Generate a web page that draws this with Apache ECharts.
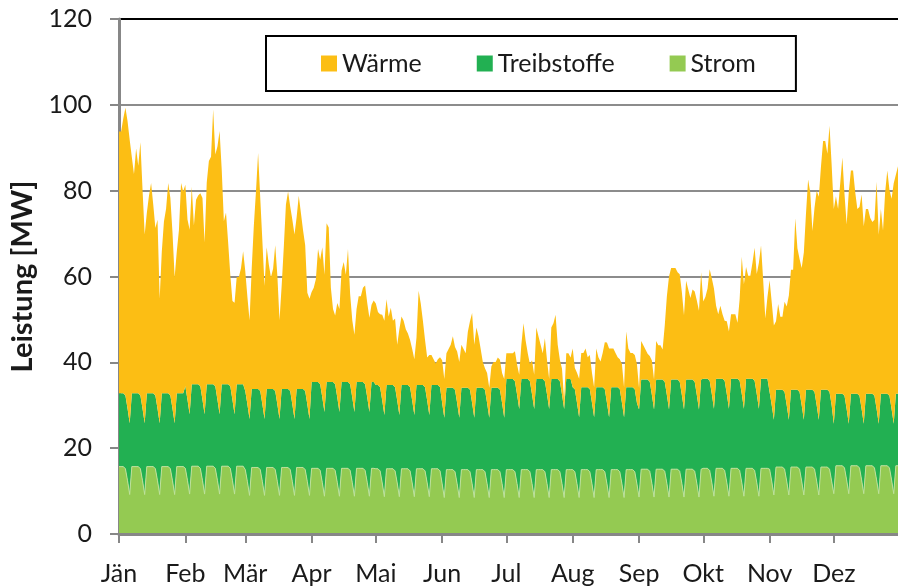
<!DOCTYPE html>
<html>
<head>
<meta charset="utf-8">
<script src="https://cdn.jsdelivr.net/npm/echarts@6/dist/echarts.min.js"></script>
<style>
html, body { margin: 0; padding: 0; background: #fff; }
#chart { width: 898px; height: 586px; }
</style>
</head>
<body>
<div id="chart"></div>
<script>
// Monatsanfaenge (Tag im Jahr) und Achsenbeschriftung
const monthStarts = [0, 31, 59, 90, 120, 151, 181, 212, 243, 273, 304, 334];
const monthLabels = ['Jän', 'Feb', 'Mär', 'Apr', 'Mai', 'Jun', 'Jul', 'Aug', 'Sep', 'Okt', 'Nov', 'Dez'];

// Tageswerte in MW, eine Zeile = eine Woche (Di ... Mo)
const strom = [
    15.7,15.7,15.7,15.2,12.4,9.2,15.7,
    15.7,15.7,15.7,15.2,12.4,9.2,15.7,
    15.7,15.7,15.7,15.2,12.4,9.2,15.7,
    15.7,15.7,15.7,15.2,12.4,9.2,15.7,
    15.7,15.7,15.7,15.3,12.5,9.3,15.8,
    15.8,15.8,15.8,15.3,12.5,9.3,15.8,
    15.8,15.8,15.8,15.3,12.5,9.3,15.8,
    15.8,15.8,15.8,15.3,12.5,9.3,15.8,
    15.8,15.8,15.8,15.0,12.2,9.0,15.5,
    15.5,15.5,15.5,15.0,12.2,9.0,15.5,
    15.5,15.5,15.5,15.0,12.2,9.0,15.5,
    15.5,15.5,15.5,15.0,12.2,9.0,15.5,
    15.5,15.5,15.5,15.0,12.2,9.0,15.3,
    15.3,15.3,15.3,14.8,12.0,8.8,15.3,
    15.3,15.3,15.3,14.8,12.0,8.8,15.3,
    15.3,15.3,15.3,14.8,12.0,8.8,15.3,
    15.3,15.3,15.3,14.8,12.0,8.8,15.3,
    15.3,15.2,15.2,14.7,11.9,8.7,15.2,
    15.2,15.2,15.2,14.7,11.9,8.7,15.2,
    15.2,15.2,15.2,14.7,11.9,8.7,15.2,
    15.2,15.2,15.2,14.7,11.9,8.7,15.2,
    15.2,15.2,15.2,14.7,11.7,8.5,15.0,
    15.0,15.0,15.0,14.5,11.7,8.5,15.0,
    15.0,15.0,15.0,14.5,11.7,8.5,15.0,
    15.0,15.0,15.0,14.5,11.7,8.5,15.0,
    15.0,15.0,15.0,14.5,11.7,8.5,15.0,
    15.0,15.0,15.0,14.5,11.7,8.5,15.0,
    15.0,15.0,15.0,14.5,11.7,8.5,15.0,
    15.0,15.0,15.0,14.5,11.7,8.5,15.0,
    15.0,15.0,15.0,14.5,11.7,8.5,15.0,
    15.0,15.0,15.0,14.5,11.7,8.5,15.0,
    15.0,15.0,15.0,14.5,11.7,8.5,15.0,
    15.0,15.0,15.0,14.5,11.7,8.5,15.0,
    15.0,15.0,15.0,14.5,11.7,8.5,15.0,
    15.0,15.0,15.0,14.5,11.7,8.6,15.1,
    15.1,15.1,15.1,14.6,11.8,8.6,15.1,
    15.1,15.1,15.1,14.6,11.8,8.6,15.1,
    15.1,15.1,15.1,14.6,11.8,8.6,15.1,
    15.1,15.1,15.1,14.6,11.8,8.6,15.1,
    15.3,15.3,15.3,14.8,12.0,8.8,15.3,
    15.3,15.3,15.3,14.8,12.0,8.8,15.3,
    15.3,15.3,15.3,14.8,12.0,8.8,15.3,
    15.3,15.3,15.3,14.8,12.0,8.8,15.3,
    15.3,15.3,15.3,15.1,12.3,9.1,15.6,
    15.6,15.6,15.6,15.1,12.3,9.1,15.6,
    15.6,15.6,15.6,15.1,12.3,9.1,15.6,
    15.6,15.6,15.6,15.1,12.3,9.1,15.6,
    15.6,15.6,15.6,15.1,12.3,9.4,15.9,
    15.9,15.9,15.9,15.4,12.6,9.4,15.9,
    15.9,15.9,15.9,15.4,12.6,9.4,15.9,
    15.9,15.9,15.9,15.4,12.6,9.4,15.9,
    15.9,15.9,15.9,15.4,12.6,9.4,15.9,
    15.9
];

const treibstoffe = [
    17.1,17.1,17.1,17.1,16.8,16.6,17.1,
    17.1,17.1,17.1,17.1,16.8,16.6,17.1,
    17.1,17.1,17.1,17.1,16.8,16.6,17.1,
    17.1,17.1,17.1,17.1,16.8,16.6,17.1,
    17.1,17.1,17.1,19.1,18.8,18.6,19.1,
    19.1,19.1,19.1,19.1,18.8,18.6,19.1,
    19.1,19.1,19.1,19.1,18.8,18.6,19.1,
    19.1,19.1,19.1,19.1,18.8,18.6,19.1,
    19.1,19.1,19.1,18.3,18.0,17.8,18.3,
    18.3,18.3,18.3,18.3,18.0,17.8,18.3,
    18.3,18.3,18.3,18.3,18.0,17.8,18.3,
    18.3,18.3,18.3,18.3,18.0,17.8,18.3,
    18.3,18.3,18.3,18.3,18.0,17.8,20.1,
    20.1,20.1,20.1,20.1,19.8,19.6,20.1,
    20.1,20.1,20.1,20.1,19.8,19.6,20.1,
    20.1,20.1,20.1,20.1,19.8,19.6,20.1,
    20.1,20.1,20.1,20.1,19.8,19.6,20.1,
    20.1,19.5,19.5,19.5,19.2,19.0,19.5,
    19.5,19.5,19.5,19.5,19.2,19.0,19.5,
    19.5,19.5,19.5,19.5,19.2,19.0,19.5,
    19.5,19.5,19.5,19.5,19.2,19.0,19.5,
    19.5,19.5,19.5,19.5,18.8,18.6,19.1,
    19.1,19.1,19.1,19.1,18.8,18.6,19.1,
    19.1,19.1,19.1,19.1,18.8,18.6,19.1,
    19.1,19.1,19.1,19.1,18.8,18.6,19.1,
    19.1,19.1,19.1,19.1,18.8,18.6,21.1,
    21.1,21.1,21.1,21.1,20.8,20.6,21.1,
    21.1,21.1,21.1,21.1,20.8,20.6,21.1,
    21.1,21.1,21.1,21.1,20.8,20.6,21.1,
    21.1,21.1,21.1,21.1,20.8,20.6,21.1,
    21.1,21.1,19.2,19.2,18.9,18.7,19.2,
    19.2,19.2,19.2,19.2,18.9,18.7,19.2,
    19.2,19.2,19.2,19.2,18.9,18.7,19.2,
    19.2,19.2,19.2,19.2,18.9,18.7,19.2,
    19.2,19.2,19.2,19.2,18.9,20.4,20.9,
    20.9,20.9,20.9,20.9,20.6,20.4,20.9,
    20.9,20.9,20.9,20.9,20.6,20.4,20.9,
    20.9,20.9,20.9,20.9,20.6,20.4,20.9,
    20.9,20.9,20.9,20.9,20.6,20.4,20.9,
    20.9,20.9,20.9,20.9,20.6,20.4,20.9,
    20.9,20.9,20.9,20.9,20.6,20.4,20.9,
    20.9,20.9,20.9,20.9,20.6,20.4,20.9,
    20.9,20.9,20.9,20.9,20.6,20.4,20.9,
    20.9,20.9,20.9,18.0,17.7,17.5,18.0,
    18.0,18.0,18.0,18.0,17.7,17.5,18.0,
    18.0,18.0,18.0,18.0,17.7,17.5,18.0,
    18.0,18.0,18.0,18.0,17.7,17.5,18.0,
    18.0,18.0,18.0,18.0,17.7,16.3,16.8,
    16.8,16.8,16.8,16.8,16.5,16.3,16.8,
    16.8,16.8,16.8,16.8,16.5,16.3,16.8,
    16.8,16.8,16.8,16.8,16.5,16.3,16.8,
    16.8,16.8,16.8,16.8,16.5,16.3,16.8,
    16.8
];

const waerme = [
    61,61,64,67,67,66,55,
    51,57,53,59,51,44,42,
    46,49,44,39,44,29,33,
    40,43,49,46,41,34,33,
    38,49,47,47,42,43,46,
    37,43,44,45,47,40,47,
    52,53,64,54,59,66,50,
    38,40,33,26,23,26,25,
    25,27,31,28,25,23,28,
    38,46,55,45,38,31,33,
    29,26,28,34,30,23,24,
    33,43,46,43,43,43,40,
    45,41,37,34,26,28,21,
    22,24,31,29,35,32,37,
    36,22,17,16,22,24,26,
    28,25,31,21,18,18,17,
    20,20,22,23,22,22,18,
    19,19,17,17,20,22,20,
    16,18,15,16,13,20,16,
    15,13,12,11,12,13,11,
    22,19,15,11,10,14,7,
    6,5,6,7,10,9,8,
    9,10,12,10,12,13,10,
    9,8,13,16,21,17,14,
    12,9,6,5,7,7,5,
    6,6,7,7,7,9,6,
    6,6,6,7,7,8,8,
    13,9,6,4,8,8,12,
    10,8,6,10,8,7,12,
    13,15,8,5,6,2,6,
    6,5,9,5,7,9,8,
    8,9,7,8,7,7,9,
    7,6,8,11,14,16,9,
    9,8,7,7,9,7,13,
    9,8,8,8,9,5,9,
    8,7,6,6,8,7,9,
    8,8,7,13,23,31,26,
    26,26,25,25,24,22,23,
    21,19,21,21,22,23,25,
    18,19,21,26,27,28,17,
    15,17,15,14,17,18,15,
    15,15,13,19,32,29,26,
    24,24,27,31,28,34,31,
    23,14,19,26,24,22,16,
    20,17,17,21,23,29,28,
    28,40,33,31,32,39,41,
    49,46,37,43,50,52,52,
    58,58,55,62,56,50,46,
    43,49,55,47,43,54,52,
    52,47,43,44,50,46,43,
    43,41,40,41,53,44,43,
    38,47,52,48,49,56,51,
    53
];

const days = strom.map((v, i) => i);

const chartInstance = echarts.init(document.getElementById('chart'));

const isMonthStart = (idx) => monthStarts.indexOf(idx) >= 0;
const font = 'Lato, "Open Sans", sans-serif';
const axisGray = '#878787';

const option = {
    animation: false,
    backgroundColor: '#fff',
    textStyle: { fontFamily: font },
    grid: {
        left: 119,
        right: -10,
        top: 19,
        bottom: 52
    },
    legend: {
        data: ['Wärme', 'Treibstoffe', 'Strom'],
        left: 266,
        top: 36,
        padding: [15, 40, 15, 55],
        borderColor: '#000',
        borderWidth: 2,
        itemGap: 55,
        itemWidth: 16,
        itemHeight: 16,
        icon: 'rect',
        textStyle: { fontSize: 25, color: '#1a1a1a', fontFamily: font }
    },
    xAxis: {
        type: 'category',
        data: days,
        boundaryGap: false,
        z: 5,
        axisLine: { lineStyle: { color: axisGray, width: 3 } },
        axisTick: {
            interval: (idx) => isMonthStart(idx),
            length: 9,
            lineStyle: { color: axisGray, width: 2 }
        },
        axisLabel: {
            interval: (idx) => isMonthStart(idx),
            formatter: (val, idx) => monthLabels[monthStarts.indexOf(idx)] || '',
            margin: 27,
            fontSize: 25,
            color: '#1a1a1a',
            fontFamily: font
        },
        splitLine: { show: false }
    },
    yAxis: {
        type: 'value',
        min: 0,
        max: 120,
        interval: 20,
        name: 'Leistung [MW]',
        nameLocation: 'middle',
        nameGap: 80,
        nameTextStyle: { fontSize: 29, fontWeight: 'bold', color: '#1a1a1a', fontFamily: font },
        axisLine: { show: true, lineStyle: { color: axisGray, width: 3 } },
        axisTick: { show: true, length: 9, lineStyle: { color: axisGray, width: 2 } },
        axisLabel: { margin: 27, fontSize: 25, color: '#1a1a1a', fontFamily: font },
        splitLine: {
            lineStyle: {
                color: ['#8c8c8c', '#8c8c8c', '#8c8c8c', '#8c8c8c', '#8c8c8c', '#8c8c8c', '#000'],
                width: 2
            }
        }
    },
    series: [
        {
            name: 'Strom',
            type: 'line',
            stack: 'total',
            data: strom,
            showSymbol: false,
            color: '#94CA52',
            lineStyle: { width: 1, color: '#bfe09a' },
            areaStyle: { color: '#94CA52', opacity: 1 }
        },
        {
            name: 'Treibstoffe',
            type: 'line',
            stack: 'total',
            data: treibstoffe,
            showSymbol: false,
            color: '#22B052',
            lineStyle: { width: 0 },
            areaStyle: { color: '#22B052', opacity: 1 }
        },
        {
            name: 'Wärme',
            type: 'line',
            stack: 'total',
            data: waerme,
            showSymbol: false,
            color: '#FCBE14',
            lineStyle: { width: 0 },
            areaStyle: { color: '#FCBE14', opacity: 1 }
        }
    ]
};

chartInstance.setOption(option);
</script>
</body>
</html>
